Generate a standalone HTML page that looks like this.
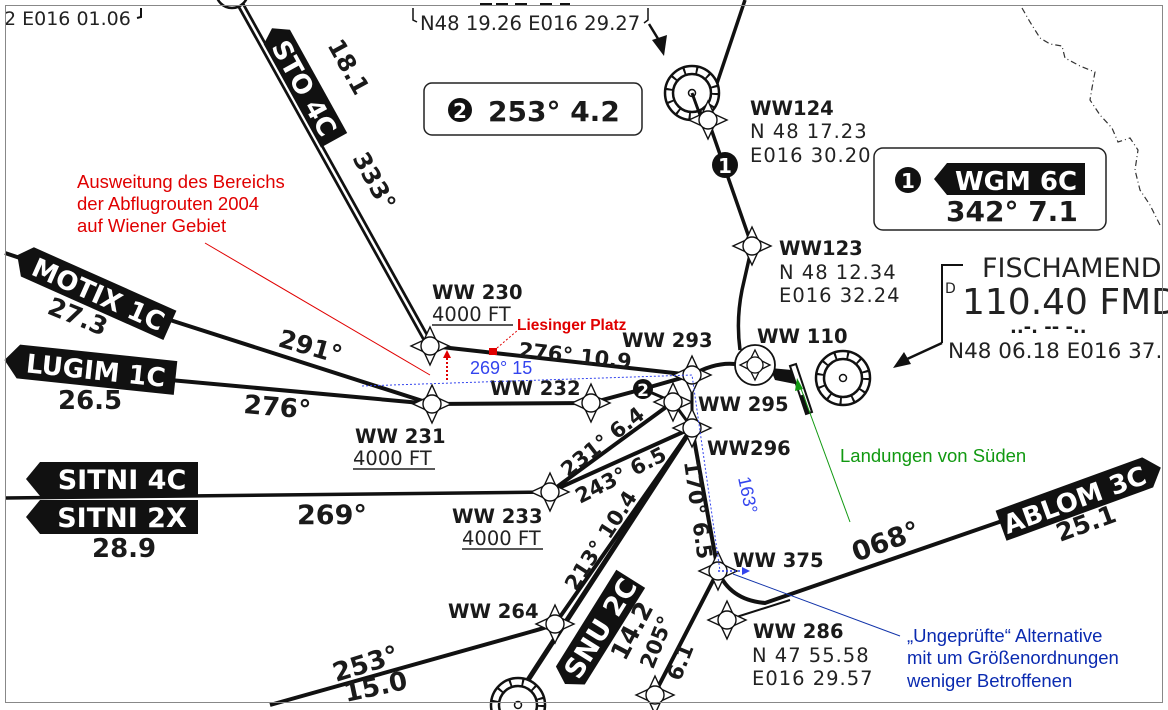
<!DOCTYPE html>
<html><head><meta charset="utf-8"><style>
html,body{margin:0;padding:0;background:#fff}
svg{display:block}
.c{font-family:"DejaVu Sans","Liberation Sans",sans-serif;font-weight:bold;fill:#1a1a1a}
.n{font-family:"DejaVu Sans","Liberation Sans",sans-serif;fill:#222}
.a{font-family:"Liberation Sans",Arial,sans-serif}
</style></head><body>
<svg width="1168" height="710" viewBox="0 0 1168 710" xmlns="http://www.w3.org/2000/svg">
<defs>
<g id="wp"><path d="M0,-19 L6,-6 L19,0 L6,6 L0,19 L-6,6 L-19,0 L-6,-6 Z" fill="#fff" stroke="#111" stroke-width="1.4"/><circle r="9" fill="#fff" stroke="#111" stroke-width="1.4"/></g>
<g id="vor"><circle r="27" fill="#fff" stroke="#111" stroke-width="2.5"/><circle r="23" fill="none" stroke="#111" stroke-width="8" stroke-dasharray="2 10.45"/><circle r="19" fill="#fff" stroke="#111" stroke-width="2.5"/><circle r="3.5" fill="#fff" stroke="#111" stroke-width="1.5"/></g>
</defs>
<rect x="0" y="0" width="1168" height="710" fill="#fff"/>

<polyline points="1022,8 1030,22 1040,38 1050,44 1062,46 1065,58 1080,66 1095,72 1092,88 1090,100 1100,115 1112,128 1118,142 1130,138 1138,150 1135,170 1140,190 1150,205 1160,225" fill="none" stroke="#333" stroke-width="1.2" stroke-dasharray="6 3 1 3"/>

<text class="n" x="4" y="25" font-size="19">2 E016 01.06</text>
<path d="M141,8 L141,17 L137,18" fill="none" stroke="#111" stroke-width="2"/>
<text class="n" x="420" y="30" font-size="19.6">N48 19.26 E016 29.27</text>
<path d="M413,8 L413,20 L417,22" fill="none" stroke="#111" stroke-width="1.5"/>
<path d="M648,8 L648,20 L644,23" fill="none" stroke="#111" stroke-width="1.5"/>
<path d="M480,4 h12 M496,4 h12 M515,4 h12 M540,4 h12 M560,4 h10" stroke="#111" stroke-width="2"/>
<line x1="649" y1="24" x2="660" y2="42" stroke="#111" stroke-width="2.5"/>
<polygon points="652,40 667,35 664,56" fill="#111"/>

<!-- STO 4C -->
<line x1="238" y1="0" x2="428" y2="342" stroke="#111" stroke-width="8"/>
<line x1="238" y1="0" x2="428" y2="342" stroke="#fff" stroke-width="2.5"/>
<circle cx="232" cy="-8" r="16" fill="#fff" stroke="#111" stroke-width="2.5"/>
<g transform="translate(304,86) rotate(61)"><polygon points="-56,-15 62,-15 62,15 -56,15 -66,0" fill="#111"/><text class="c" x="2" y="10" font-size="26" text-anchor="middle" style="fill:#fff">STO 4C</text></g>
<text class="c" transform="translate(327,45) rotate(61)" font-size="24">18.1</text>
<text class="c" transform="translate(352,158) rotate(61)" font-size="24">333°</text>

<!-- MOTIX -->
<line x1="170" y1="320" x2="432" y2="404" stroke="#111" stroke-width="4"/>
<line x1="5" y1="253" x2="20" y2="258" stroke="#111" stroke-width="4"/>
<g transform="translate(95,292) rotate(24)"><polygon points="-74,-16 82,-16 82,16 -74,16 -86,-2" fill="#111"/><text class="c" x="4" y="10" font-size="26" text-anchor="middle" style="fill:#fff">MOTIX 1C</text></g>
<text class="c" transform="translate(46,313) rotate(22)" font-size="25">27.3</text>
<text class="c" transform="translate(277,346) rotate(16)" font-size="25">291°</text>

<!-- LUGIM -->
<line x1="170" y1="380" x2="432" y2="404" stroke="#111" stroke-width="4"/>
<g transform="translate(90,369) rotate(6)"><polygon points="-72,-17 86,-17 86,17 -72,17 -86,0" fill="#111"/><text class="c" x="6" y="10" font-size="26" text-anchor="middle" style="fill:#fff">LUGIM 1C</text></g>
<text class="c" x="58" y="409" font-size="26">26.5</text>
<text class="c" transform="translate(243,413) rotate(5)" font-size="26">276°</text>

<!-- SITNI -->
<line x1="5" y1="498" x2="550" y2="492" stroke="#111" stroke-width="3.5"/>
<polygon points="40,462 198,462 198,496 40,496 26,479" fill="#111"/>
<polygon points="40,500 198,500 198,534 40,534 26,517" fill="#111"/>
<text class="c" x="122" y="489" font-size="27" text-anchor="middle" style="fill:#fff">SITNI 4C</text>
<text class="c" x="122" y="527" font-size="27" text-anchor="middle" style="fill:#fff">SITNI 2X</text>
<text class="c" x="92" y="557" font-size="26">28.9</text>
<text class="c" x="297" y="524" font-size="27">269°</text>

<!-- routes -->
<polyline points="432,404 591,403 643,389 692,375" fill="none" stroke="#111" stroke-width="4"/>
<line x1="432" y1="346" x2="692" y2="375" stroke="#111" stroke-width="4"/>
<path d="M692,375 Q715,362 735,364" fill="none" stroke="#111" stroke-width="4"/>
<path d="M740,350 Q736,320 742,290 L752,246 L708,120" fill="none" stroke="#111" stroke-width="3.5"/>
<line x1="708" y1="110" x2="745" y2="0" stroke="#111" stroke-width="3.5"/>
<line x1="643" y1="389" x2="673" y2="402" stroke="#111" stroke-width="3"/>
<line x1="550" y1="492" x2="673" y2="402" stroke="#111" stroke-width="4"/>
<line x1="550" y1="492" x2="692" y2="428" stroke="#111" stroke-width="4"/>
<line x1="555" y1="624" x2="692" y2="428" stroke="#111" stroke-width="4"/>
<line x1="515" y1="700" x2="692" y2="428" stroke="#111" stroke-width="5"/>
<line x1="692" y1="428" x2="673" y2="402" stroke="#111" stroke-width="3"/>
<line x1="692" y1="375" x2="692" y2="428" stroke="#111" stroke-width="3"/>
<line x1="692" y1="428" x2="718" y2="571" stroke="#111" stroke-width="4"/>
<path d="M270,705 L530,632 Q548,627 555,624" fill="none" stroke="#111" stroke-width="4"/>
<line x1="655" y1="693" x2="718" y2="571" stroke="#111" stroke-width="4"/>
<path d="M718,571 Q730,600 765,603 L1005,520" fill="none" stroke="#111" stroke-width="4"/>
<line x1="727" y1="620" x2="790" y2="600" stroke="#111" stroke-width="2"/>

<!-- ABLOM -->
<g transform="translate(1080,497) rotate(-20)"><polygon points="-84,-16 72,-16 86,0 72,16 -84,16" fill="#111"/><text class="c" x="-6" y="10" font-size="26" text-anchor="middle" style="fill:#fff">ABLOM 3C</text></g>
<text class="c" transform="translate(1060,542) rotate(-20)" font-size="25">25.1</text>
<text class="c" transform="translate(856,562) rotate(-20)" font-size="27">068°</text>

<!-- SNU 2C -->
<g transform="translate(600,628) rotate(-58)"><polygon points="-56,-17 58,-17 58,17 -56,17 -66,0" fill="#111"/><text class="c" x="0" y="10" font-size="27" text-anchor="middle" style="fill:#fff">SNU 2C</text></g>
<text class="c" transform="translate(625,662) rotate(-62)" font-size="25">14.2</text>

<!-- segment labels -->
<text class="c" transform="translate(576,592) rotate(-57)" font-size="21">213°  10.4</text>
<text class="c" transform="translate(568,478) rotate(-38)" font-size="21">231°  6.4</text>
<text class="c" transform="translate(580,504) rotate(-27)" font-size="21">243°  6.5</text>
<text class="c" transform="translate(684,462) rotate(82)" font-size="21">170°  6.5</text>
<text class="c" transform="translate(653,670) rotate(-68)" font-size="21">205°</text>
<text class="c" transform="translate(680,682) rotate(-68)" font-size="21">6.1</text>
<text class="c" transform="translate(518,357) rotate(6)" font-size="21">276°   10.9</text>
<text class="c" transform="translate(336,682) rotate(-17)" font-size="26">253°</text>
<text class="c" transform="translate(346,702) rotate(-12)" font-size="26">15.0</text>

<!-- runway & VORs -->
<polygon points="770,368 792,370 800,385 775,380" fill="#111"/>
<polygon points="790,366 796,364 812,412 806,414" fill="#fff" stroke="#111" stroke-width="2"/>
<line x1="802" y1="395" x2="808" y2="414" stroke="#111" stroke-width="4"/>
<use href="#vor" x="843" y="378"/>
<use href="#vor" x="692" y="93"/>
<use href="#vor" x="518" y="705"/>
<line x1="692" y1="93" x2="700" y2="115" stroke="#111" stroke-width="3"/>
<g transform="translate(755,365)"><circle r="20" fill="#fff" stroke="#111" stroke-width="1.8"/><path d="M0,-15 L5,-5 L15,0 L5,5 L0,15 L-5,5 L-15,0 L-5,-5 Z" fill="#fff" stroke="#111" stroke-width="1.3"/><circle r="8" fill="#fff" stroke="#111" stroke-width="1.3"/></g>

<!-- waypoints -->
<use href="#wp" x="430" y="346"/>
<use href="#wp" x="432" y="404"/>
<use href="#wp" x="591" y="403"/>
<use href="#wp" x="692" y="375"/>
<use href="#wp" x="673" y="402"/>
<use href="#wp" x="692" y="428"/>
<use href="#wp" x="550" y="492"/>
<use href="#wp" x="555" y="624"/>
<use href="#wp" x="718" y="571"/>
<use href="#wp" x="727" y="620"/>
<use href="#wp" x="655" y="695"/>
<use href="#wp" x="752" y="246"/>
<use href="#wp" x="708" y="120"/>

<circle cx="643" cy="389" r="10" fill="#111"/><text class="c" x="643" y="396" font-size="17" text-anchor="middle" style="fill:#fff">2</text>
<circle cx="725" cy="165" r="13" fill="#111"/><text class="c" x="725" y="173" font-size="20" text-anchor="middle" style="fill:#fff">1</text>

<!-- waypoint labels -->
<text class="c" x="432" y="299" font-size="19.5">WW 230</text>
<text class="n" x="432" y="321" font-size="19.5">4000 FT</text><line x1="432" y1="325" x2="513" y2="325" stroke="#222" stroke-width="1.5"/>
<text class="c" x="622" y="347" font-size="19.5">WW 293</text>
<text class="c" x="490" y="395" font-size="19.5">WW 232</text>
<text class="c" x="355" y="443" font-size="19.5">WW 231</text>
<text class="n" x="353" y="465" font-size="19.5">4000 FT</text><line x1="353" y1="469" x2="435" y2="469" stroke="#222" stroke-width="1.5"/>
<text class="c" x="698" y="411" font-size="19.5">WW 295</text>
<text class="c" x="707" y="455" font-size="19.5">WW296</text>
<text class="c" x="452" y="523" font-size="19.5">WW 233</text>
<text class="n" x="462" y="545" font-size="19.5">4000 FT</text><line x1="462" y1="549" x2="543" y2="549" stroke="#222" stroke-width="1.5"/>
<text class="c" x="448" y="618" font-size="19.5">WW 264</text>
<text class="c" x="733" y="567" font-size="19.5">WW 375</text>
<text class="c" x="753" y="638" font-size="19.5">WW 286</text>
<text class="n" x="752" y="662" font-size="19.5" letter-spacing="1">N 47 55.58</text>
<text class="n" x="752" y="685" font-size="19.5" letter-spacing="1">E016 29.57</text>
<text class="c" x="757" y="343" font-size="19.5">WW 110</text>
<text class="c" x="779" y="255" font-size="19.5">WW123</text>
<text class="n" x="779" y="279" font-size="19.5" letter-spacing="1">N 48 12.34</text>
<text class="n" x="779" y="302" font-size="19.5" letter-spacing="1">E016 32.24</text>
<text class="c" x="750" y="115" font-size="19.5">WW124</text>
<text class="n" x="750" y="138" font-size="19.5" letter-spacing="1">N 48 17.23</text>
<text class="n" x="750" y="162" font-size="19.5" letter-spacing="1">E016 30.20</text>

<!-- boxes -->
<rect x="424" y="83" width="218" height="52" rx="8" fill="#fff" stroke="#222" stroke-width="1.5"/>
<circle cx="460" cy="110" r="12" fill="#111"/><text class="c" x="460" y="118" font-size="20" text-anchor="middle" style="fill:#fff">2</text>
<text class="c" x="488" y="121" font-size="28">253°  4.2</text>
<rect x="874" y="148" width="232" height="82" rx="9" fill="#fff" stroke="#222" stroke-width="1.5"/>
<circle cx="908" cy="180" r="13" fill="#111"/><text class="c" x="908" y="188" font-size="20" text-anchor="middle" style="fill:#fff">1</text>
<polygon points="947,163 1085,163 1085,195 947,195 934,179" fill="#111"/>
<text class="c" x="1016" y="190" font-size="26" text-anchor="middle" style="fill:#fff">WGM 6C</text>
<text class="c" x="946" y="221" font-size="28">342°  7.1</text>

<!-- Fischamend -->
<path d="M963,265 L942,265 L942,343" fill="none" stroke="#111" stroke-width="2"/>
<text class="n" x="945" y="293" font-size="14">D</text>
<text class="n" x="982" y="277" font-size="27">FISCHAMEND</text>
<text class="n" x="962" y="314" font-size="36">110.40 FMD</text>
<text class="c" x="1010" y="333" font-size="18">..-. -- -..</text>
<text class="n" x="948" y="358" font-size="21.5">N48 06.18 E016 37.</text>
<line x1="942" y1="343" x2="905" y2="360" stroke="#111" stroke-width="2.5"/>
<polygon points="893,368 904,352 911,364" fill="#111"/>

<!-- red annotations -->
<text class="a" x="77" y="188" font-size="18.5" fill="#e00000">Ausweitung des Bereichs</text>
<text class="a" x="77" y="210" font-size="18.5" fill="#e00000">der Abflugrouten 2004</text>
<text class="a" x="77" y="232" font-size="18.5" fill="#e00000">auf Wiener Gebiet</text>
<line x1="205" y1="243" x2="430" y2="375" stroke="#e00000" stroke-width="1"/>
<line x1="447" y1="380" x2="447" y2="358" stroke="#e00000" stroke-width="2" stroke-dasharray="2 2"/>
<polygon points="443,358 451,358 447,350" fill="#e00000"/>
<rect x="489" y="348" width="8" height="7" fill="#e00000"/>
<line x1="497" y1="348" x2="518" y2="330" stroke="#e00000" stroke-width="1" stroke-dasharray="2 2"/>
<text class="a" x="517" y="330" font-size="15.5" font-weight="bold" fill="#e00000">Liesinger Platz</text>

<!-- blue annotations -->
<polyline points="362,386 692,375 720,571" fill="none" stroke="#3344ee" stroke-width="1" stroke-dasharray="2 2"/>
<line x1="718" y1="571" x2="742" y2="571" stroke="#3344ee" stroke-width="1.5" stroke-dasharray="2 2"/>
<polygon points="742,567 750,571 742,575" fill="#3344ee"/>
<text class="a" x="470" y="374" font-size="18" fill="#3344ee">269° 15</text>
<text class="a" transform="translate(738,478) rotate(78)" font-size="18" fill="#3344ee">163°</text>
<line x1="733" y1="574" x2="900" y2="636" stroke="#1133aa" stroke-width="1"/>
<text class="a" x="907" y="642" font-size="18.5" fill="#0a2ab0">„Ungeprüfte“ Alternative</text>
<text class="a" x="907" y="664" font-size="18.5" fill="#0a2ab0">mit um Größenordnungen</text>
<text class="a" x="907" y="687" font-size="18.5" fill="#0a2ab0">weniger Betroffenen</text>

<!-- green -->
<line x1="850" y1="522" x2="800" y2="386" stroke="#119911" stroke-width="1"/>
<polygon points="797,378 795,391 803,389" fill="#119911"/>
<text class="a" x="840" y="462" font-size="18.5" fill="#119911">Landungen von Süden</text>

<rect x="5.5" y="5.5" width="1157" height="697" fill="none" stroke="#888" stroke-width="1"/>
</svg>
</body></html>
